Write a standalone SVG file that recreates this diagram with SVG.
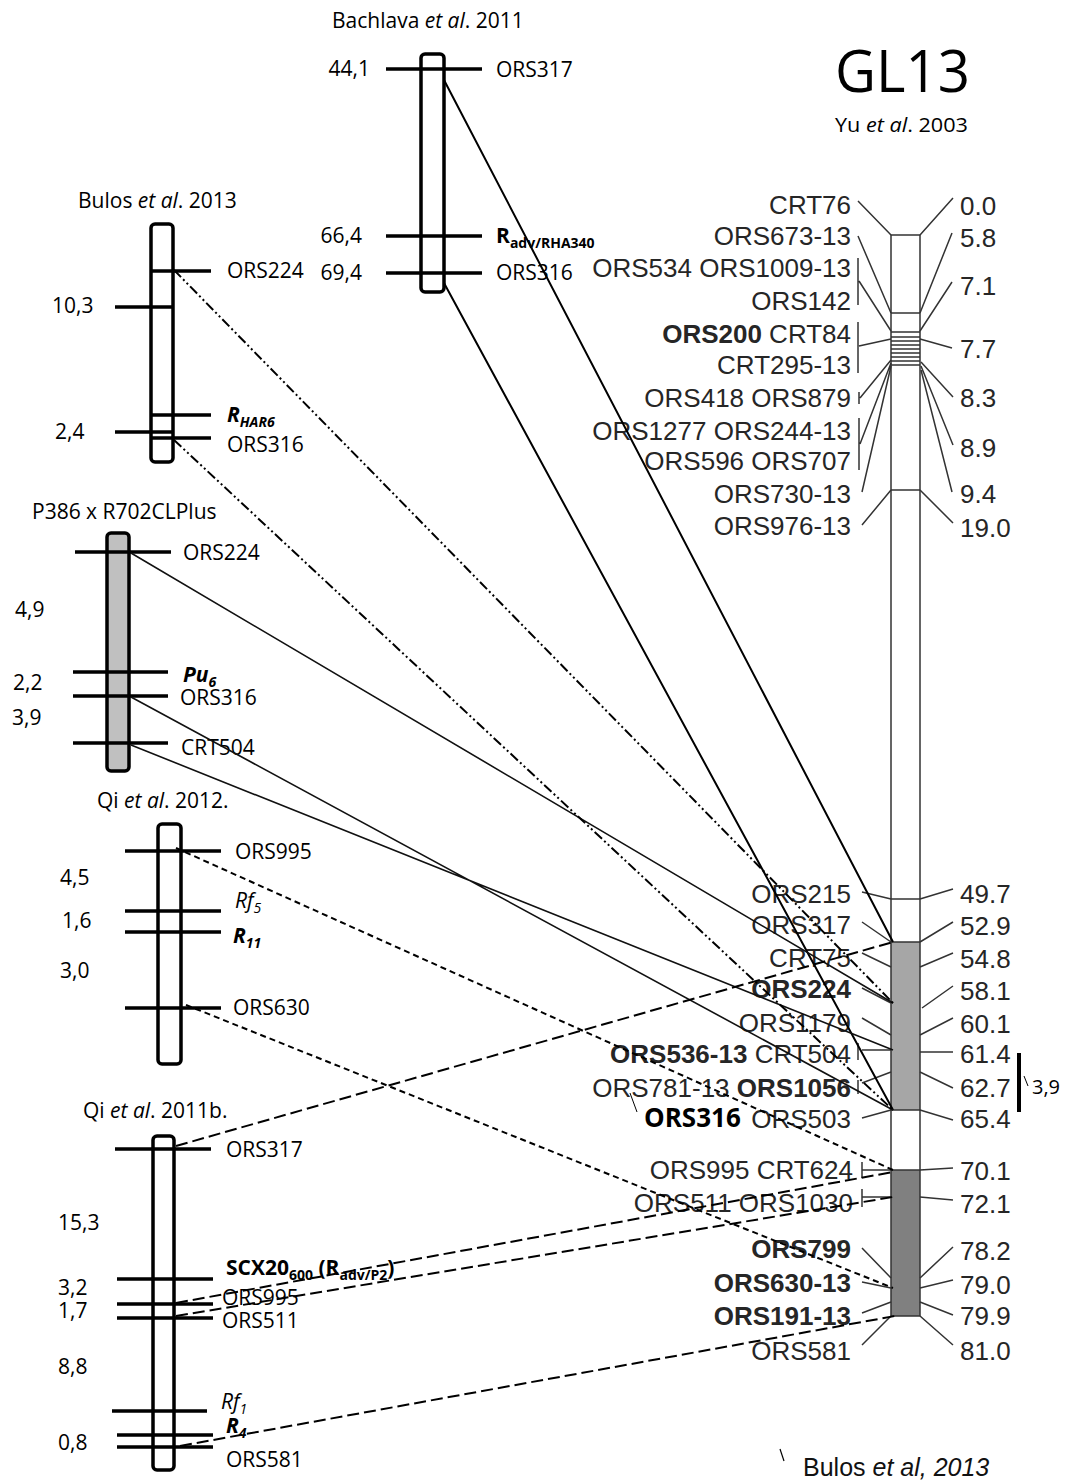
<svg xmlns="http://www.w3.org/2000/svg" width="1066" height="1481" viewBox="0 0 1066 1481">
<style>
.t{font-family:"Open Sans","Liberation Sans",sans-serif;font-size:21px;fill:#000}
.it{font-style:italic}
.b{font-weight:bold}
.sub{font-size:14px}
.chr{fill:#fff;stroke:#000;stroke-width:3.5}
.tick{stroke:#000;stroke-width:3.5}
.r{font-family:"Liberation Sans",Arial,sans-serif;font-size:26px;fill:#262626}
.lead{stroke:#333;stroke-width:1.5;fill:none}
.solid{stroke:#000;stroke-width:2;fill:none}
.psolid{stroke:#111;stroke-width:1.6;fill:none}
.dd{stroke:#000;stroke-width:2;fill:none;stroke-dasharray:10 3 2 3 2 3}
.d1{stroke:#000;stroke-width:2;fill:none;stroke-dasharray:6 4}
.d2{stroke:#000;stroke-width:2;fill:none;stroke-dasharray:12 5}
</style>
<rect width="1066" height="1481" fill="#fff"/>

<!-- GL13 reference map -->
<g id="gl13">
  <text class="t" x="835" y="92" style="font-size:58px" textLength="135" lengthAdjust="spacingAndGlyphs">GL13</text>
  <text class="t" x="835" y="132" style="font-size:20px" textLength="133" lengthAdjust="spacingAndGlyphs">Yu <tspan class="it">et al</tspan>. 2003</text>
  <rect x="891" y="942" width="29" height="168" fill="#a6a6a6"/>
  <rect x="891" y="1170" width="29" height="146" fill="#808080"/>
  <path class="lead" d="M891,235 V1316 M920,235 V1316 M891,235 H920 M891,1316 H920"/>
  <path class="lead" d="M891,313 H920 M891,332 H920 M891,337 H920 M891,341 H920 M891,345 H920 M891,349 H920 M891,353 H920 M891,357 H920 M891,361 H920 M891,365 H920 M891,490 H920 M891,899 H920 M891,942 H920 M891,1110 H920 M891,1170 H920"/>
  <!-- left leaders -->
  <path class="lead" d="M858,201 L891,235 M858,236 L891,313 M858,258 V305 M859,281 L891,331 M858,322 V373 M859,346 L891,339 M859,392 V404 M860,398 L891,360 M859,418 V470 M860,444 L891,363 M862,492 L891,366 M862,525 L891,490"/>
  <path class="lead" d="M862,892 L891,899 M862,922 L891,942 M862,953 L891,967 M862,988 L891,1003 M862,1018 L891,1035 M858,1043 V1060 M862,1050 H891 M858,1080 V1094 M862,1083 L891,1072 M862,1118 L891,1110 M862,1162 V1178 M862,1170 H891 M862,1189 V1207 M862,1197 H891 M862,1248 L891,1278 M862,1282 L891,1288 M862,1313 L891,1302 M862,1345 L891,1316"/>
  <!-- right leaders -->
  <path class="lead" d="M920,235 L953,198 M920,313 L952,233 M920,331 L952,282 M920,339 L952,348 M921,362 L953,397 M921,366 L953,445 M921,370 L952,492 M920,490 L953,523"/>
  <path class="lead" d="M920,899 L953,889 M920,942 L953,922 M920,967 L953,953 M922,1008 L953,986 M920,1035 L953,1018 M920,1052 H953 M920,1072 L953,1088 M920,1110 L953,1120 M920,1170 L953,1168 M920,1197 L953,1200 M920,1278 L953,1247 M920,1288 L953,1280 M920,1302 L953,1315 M920,1316 L953,1345"/>
  <g class="r" text-anchor="end">
    <text x="851" y="214">CRT76</text>
    <text x="851" y="245">ORS673-13</text>
    <text x="851" y="277">ORS534 ORS1009-13</text>
    <text x="851" y="310">ORS142</text>
    <text x="851" y="343"><tspan class="b">ORS200</tspan> CRT84</text>
    <text x="851" y="374">CRT295-13</text>
    <text x="851" y="407">ORS418 ORS879</text>
    <text x="851" y="440">ORS1277 ORS244-13</text>
    <text x="851" y="470">ORS596 ORS707</text>
    <text x="851" y="503">ORS730-13</text>
    <text x="851" y="535">ORS976-13</text>
    <text x="851" y="903">ORS215</text>
    <text x="851" y="934">ORS317</text>
    <text x="851" y="967">CRT75</text>
    <text x="851" y="998" class="b">ORS224</text>
    <text x="851" y="1032">ORS1179</text>
    <text x="851" y="1063"><tspan class="b">ORS536-13</tspan> CRT504</text>
    <text x="851" y="1097">ORS781-13 <tspan class="b">ORS1056</tspan></text>
    <text x="851" y="1128">ORS503</text>
    <text x="853" y="1179">ORS995 CRT624</text>
    <text x="853" y="1212">ORS511 ORS1030</text>
    <text x="851" y="1258" class="b">ORS799</text>
    <text x="851" y="1292" class="b">ORS630-13</text>
    <text x="851" y="1325" class="b">ORS191-13</text>
    <text x="851" y="1360">ORS581</text>
  </g>
  <g class="r">
    <text x="960" y="215">0.0</text>
    <text x="960" y="247">5.8</text>
    <text x="960" y="295">7.1</text>
    <text x="960" y="358">7.7</text>
    <text x="960" y="407">8.3</text>
    <text x="960" y="457">8.9</text>
    <text x="960" y="503">9.4</text>
    <text x="960" y="537">19.0</text>
    <text x="960" y="903">49.7</text>
    <text x="960" y="935">52.9</text>
    <text x="960" y="968">54.8</text>
    <text x="960" y="1000">58.1</text>
    <text x="960" y="1033">60.1</text>
    <text x="960" y="1063">61.4</text>
    <text x="960" y="1097">62.7</text>
    <text x="960" y="1128">65.4</text>
    <text x="960" y="1180">70.1</text>
    <text x="960" y="1213">72.1</text>
    <text x="960" y="1260">78.2</text>
    <text x="960" y="1294">79.0</text>
    <text x="960" y="1325">79.9</text>
    <text x="960" y="1360">81.0</text>
  </g>
  <line x1="630" y1="1093" x2="637" y2="1112" stroke="#000" stroke-width="1"/>
  <text class="t b" x="644" y="1127" style="font-size:26px">ORS316</text>
  <line x1="1019" y1="1053" x2="1019" y2="1112" stroke="#000" stroke-width="4"/>
  <line x1="1024" y1="1076" x2="1028" y2="1086" stroke="#000" stroke-width="1"/>
  <text class="t" x="1032" y="1094" style="font-size:20px">3,9</text>
  <line x1="780" y1="1449" x2="784" y2="1461" stroke="#000" stroke-width="1.2"/>
  <text x="803" y="1476" font-family="Liberation Sans, Arial, sans-serif" font-size="25" fill="#111">Bulos <tspan font-style="italic">et al, 2013</tspan></text>
</g>

<!-- Bachlava et al. 2011 -->
<g id="bachlava">
  <text class="t" x="332" y="28">Bachlava <tspan class="it">et al</tspan>. 2011</text>
  <rect class="chr" x="421" y="54" width="23" height="238" rx="4"/>
  <path class="tick" d="M386,69 H482 M386,236 H482 M386,273 H482"/>
  <text class="t" x="370" y="76" text-anchor="end">44,1</text>
  <text class="t" x="362" y="243" text-anchor="end">66,4</text>
  <text class="t" x="362" y="280" text-anchor="end">69,4</text>
  <text class="t" x="496" y="77">ORS317</text>
  <text class="t b" x="496" y="243">R<tspan class="sub" dy="5">adv/RHA340</tspan></text>
  <text class="t" x="496" y="280">ORS316</text>
</g>

<!-- Bulos et al. 2013 -->
<g id="bulos">
  <text class="t" x="78" y="208">Bulos <tspan class="it">et al</tspan>. 2013</text>
  <rect class="chr" x="151" y="224" width="22" height="238" rx="4"/>
  <path class="tick" d="M152,271 H211 M115,307 H172 M152,415 H211 M115,432 H172 M152,438 H211" stroke-width="3"/>
  <text class="t" x="52" y="313">10,3</text>
  <text class="t" x="55" y="439">2,4</text>
  <text class="t" x="227" y="278">ORS224</text>
  <text class="t b it" x="227" y="422">R<tspan class="sub" dy="5">HAR6</tspan></text>
  <text class="t" x="227" y="452">ORS316</text>
</g>

<!-- P386 x R702CLPlus -->
<g id="p386">
  <text class="t" x="32" y="519">P386 x R702CLPlus</text>
  <rect class="chr" x="107" y="533" width="22" height="238" rx="4" style="fill:#c0c0c0"/>
  <path class="tick" d="M75,552 H171 M73,672 H168 M73,696 H168 M73,743 H168"/>
  <text class="t" x="15" y="617">4,9</text>
  <text class="t" x="13" y="690">2,2</text>
  <text class="t" x="12" y="725">3,9</text>
  <text class="t" x="183" y="560">ORS224</text>
  <text class="t b it" x="183" y="682">Pu<tspan class="sub" dy="5">6</tspan></text>
  <text class="t" x="180" y="705">ORS316</text>
  <text class="t" x="181" y="755">CRT504</text>
</g>

<!-- Qi et al. 2012 -->
<g id="qi2012">
  <text class="t" x="97" y="808">Qi <tspan class="it">et al</tspan>. 2012.</text>
  <rect class="chr" x="158" y="824" width="23" height="240" rx="4"/>
  <path class="tick" d="M125,851 H221 M125,911 H221 M125,932 H221 M125,1008 H221"/>
  <text class="t" x="60" y="885">4,5</text>
  <text class="t" x="62" y="928">1,6</text>
  <text class="t" x="60" y="978">3,0</text>
  <text class="t" x="235" y="859">ORS995</text>
  <text class="t it" x="235" y="908">Rf<tspan class="sub" dy="5">5</tspan></text>
  <text class="t b it" x="233" y="943">R<tspan class="sub" dy="5">11</tspan></text>
  <text class="t" x="233" y="1015">ORS630</text>
</g>

<!-- Qi et al. 2011b -->
<g id="qi2011b">
  <text class="t" x="83" y="1118">Qi <tspan class="it">et al</tspan>. 2011b.</text>
  <rect class="chr" x="153" y="1136" width="21" height="334" rx="4"/>
  <path class="tick" d="M115,1149 H211 M117,1279 H213 M117,1304 H213 M117,1318 H213 M112,1411 H207 M117,1435 H213 M117,1447 H213"/>
  <text class="t" x="58" y="1230">15,3</text>
  <text class="t" x="58" y="1295">3,2</text>
  <text class="t" x="58" y="1318">1,7</text>
  <text class="t" x="58" y="1374">8,8</text>
  <text class="t" x="58" y="1450">0,8</text>
  <text class="t" x="226" y="1157">ORS317</text>
  <text class="t b" x="226" y="1275">SCX20<tspan class="sub" dy="5">600</tspan><tspan dy="-5"> (R</tspan><tspan class="sub" dy="5">adv/P2</tspan><tspan dy="-5">)</tspan></text>
  <text class="t" x="222" y="1305">ORS995</text>
  <text class="t" x="222" y="1328">ORS511</text>
  <text class="t it" x="221" y="1409">Rf<tspan class="sub" dy="5">1</tspan></text>
  <text class="t b it" x="226" y="1433">R<tspan class="sub" dy="5">4</tspan></text>
  <text class="t" x="226" y="1467">ORS581</text>
</g>

<!-- connectors -->
<g id="connectors">
  <path class="solid" d="M444,80 L893,942 M444,283 L893,1110"/>
  <path class="psolid" d="M131,553 L893,1003 M131,697 L893,1110 M131,745 L893,1050"/>
  <path class="dd" d="M174,270 L893,1003 M174,440 L893,1110"/>
  <path class="d1" d="M176,848 L893,1170 M186,1005 L893,1288"/>
  <path class="d2" d="M176,1146 L893,942 M176,1303 L893,1172 M176,1316 L893,1197 M180,1446 L895,1316"/>
</g>
</svg>
